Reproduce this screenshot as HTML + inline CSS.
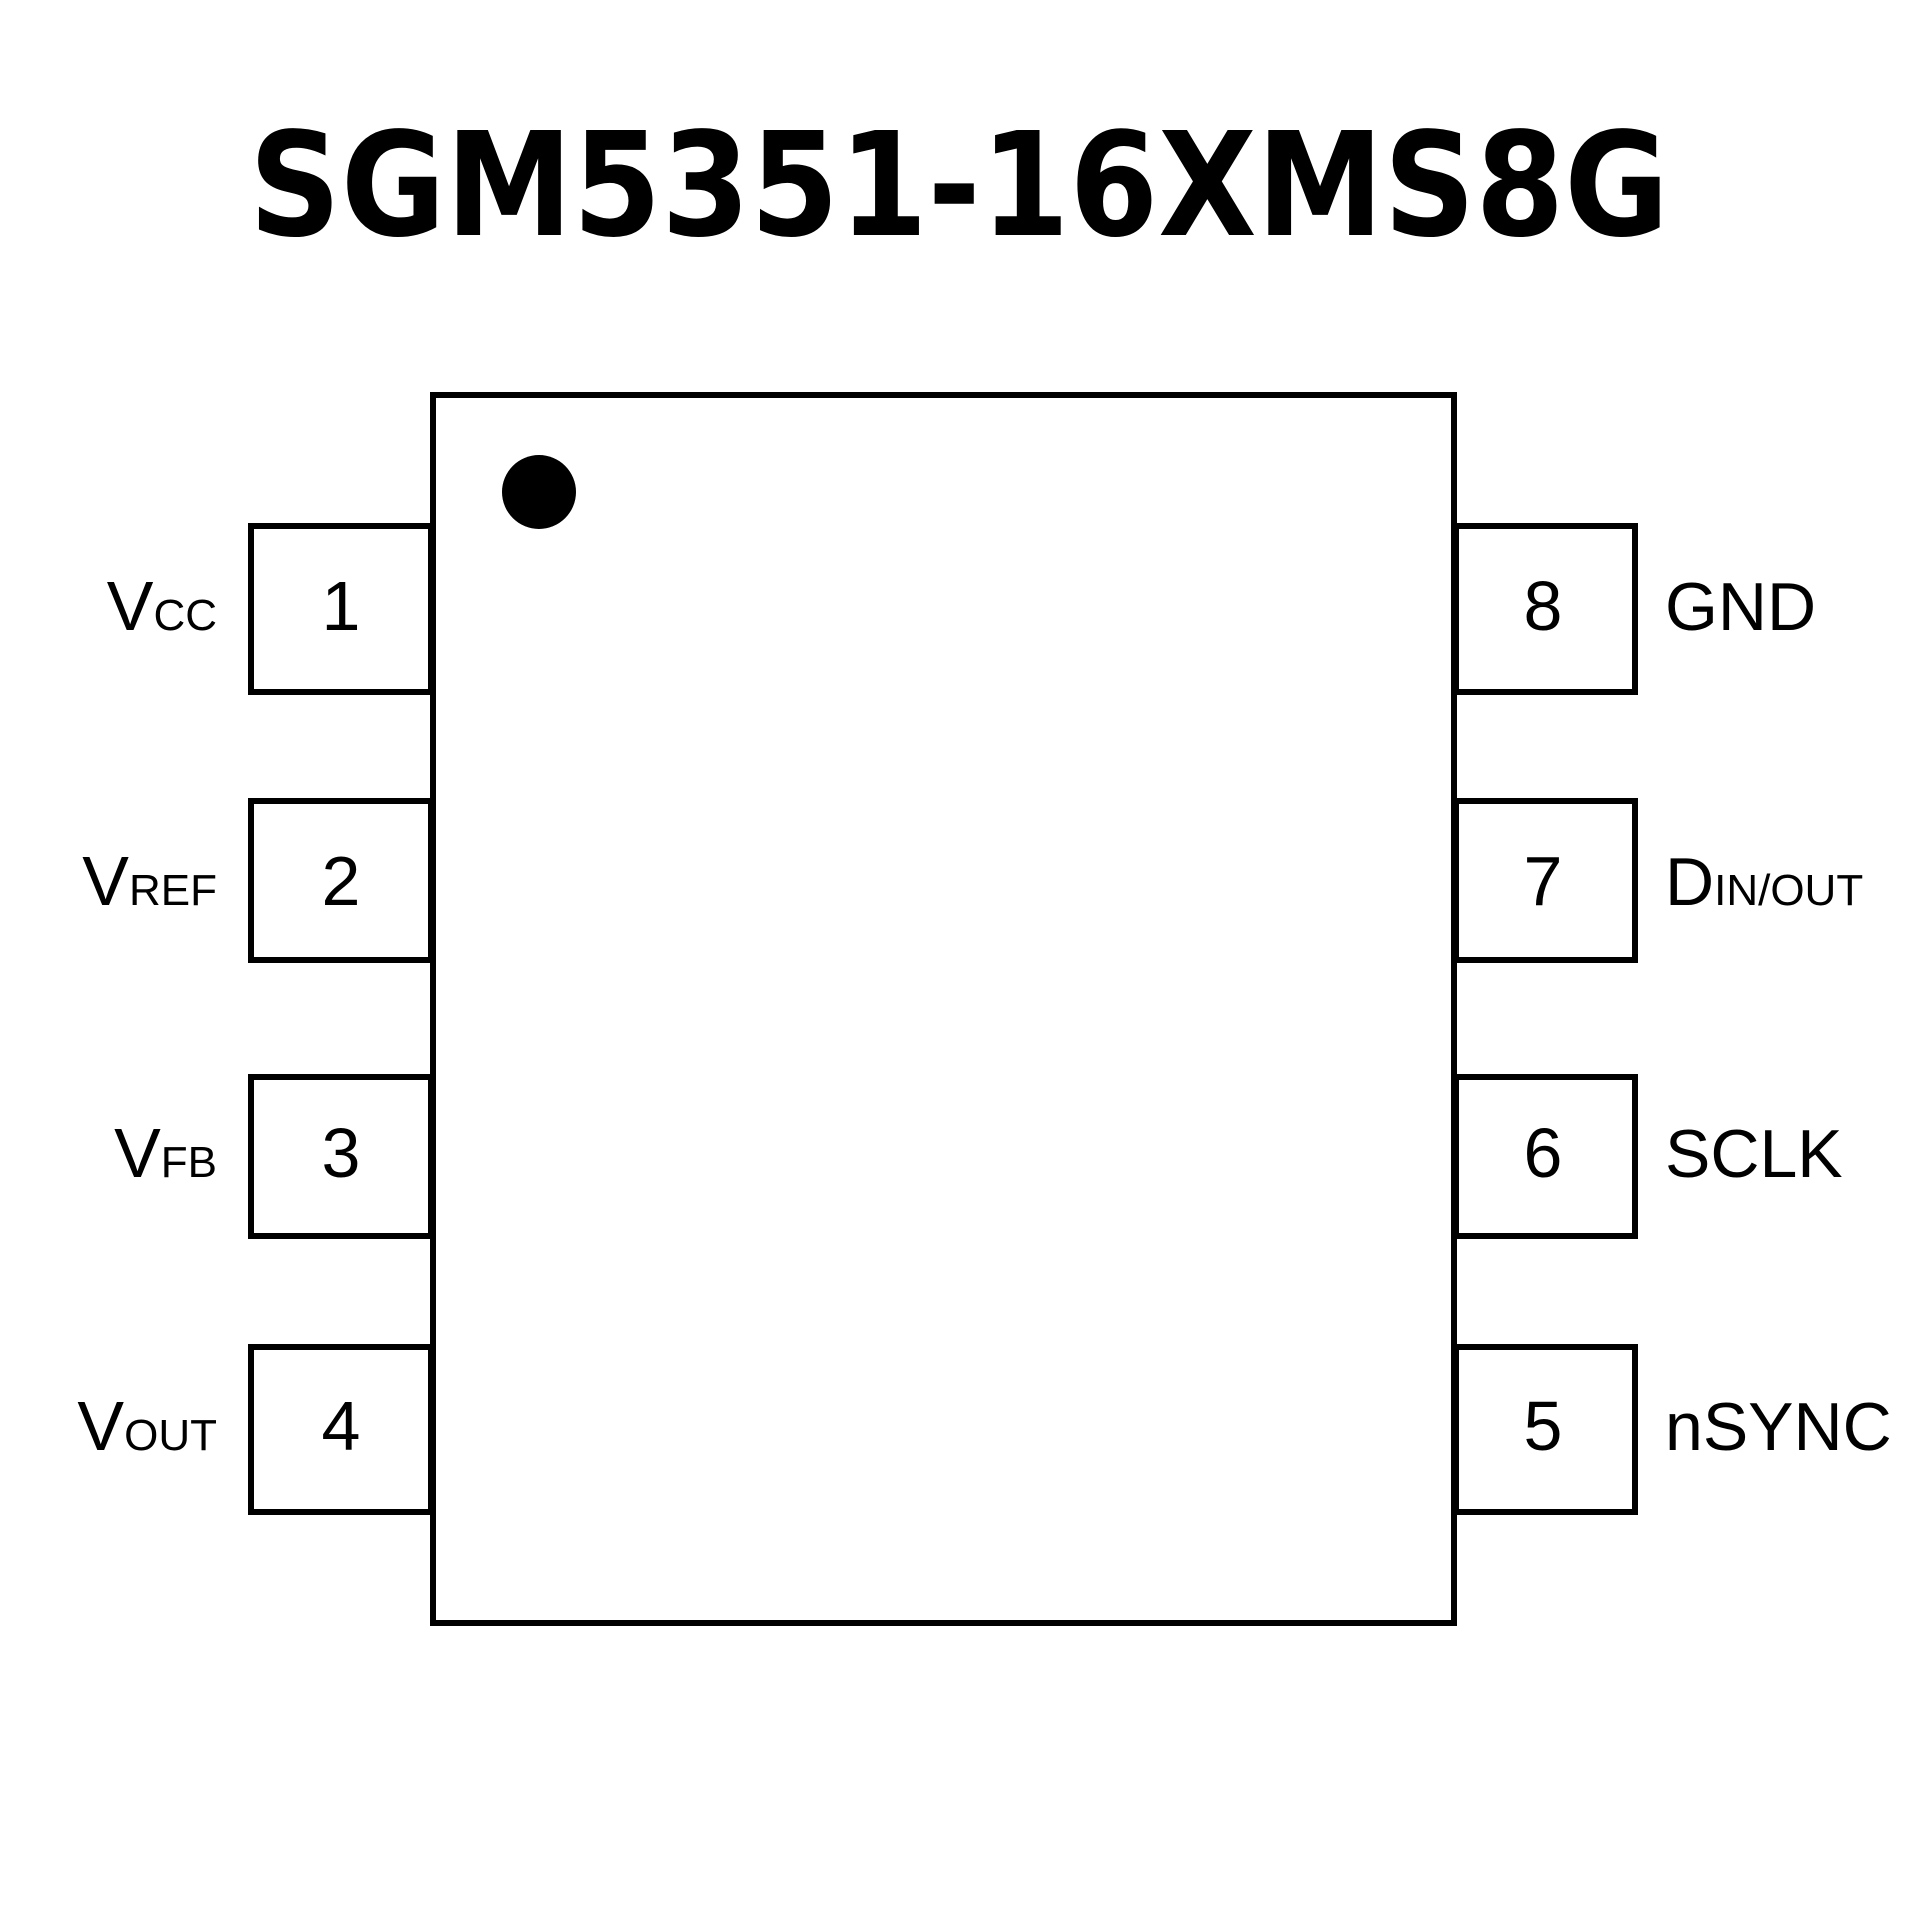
<!DOCTYPE html>
<html><head><meta charset="utf-8"><style>html,body{margin:0;padding:0;background:#fff}</style></head>
<body>
<svg width="1920" height="1920" viewBox="0 0 1920 1920" xmlns="http://www.w3.org/2000/svg">
<rect width="1920" height="1920" fill="#fff"/>
<text x="959" y="235" text-anchor="middle" font-family="'DejaVu Sans','Liberation Sans',sans-serif" font-weight="bold" font-size="144" textLength="1420" lengthAdjust="spacingAndGlyphs">SGM5351-16XMS8G</text>
<g fill="none" stroke="#000" stroke-width="6">
<rect x="433" y="395" width="1021" height="1228"/>
<rect x="251" y="526" width="180" height="166"/>
<rect x="251" y="801" width="180" height="159"/>
<rect x="251" y="1077" width="180" height="159"/>
<rect x="251" y="1347" width="180" height="165"/>
<rect x="1456" y="526" width="179" height="166"/>
<rect x="1456" y="801" width="179" height="159"/>
<rect x="1456" y="1077" width="179" height="159"/>
<rect x="1456" y="1347" width="179" height="165"/>
</g>
<circle cx="539" cy="492" r="37" fill="#000"/>
<g font-family="'Liberation Sans',sans-serif" font-size="70" text-anchor="middle">
<text x="341" y="630">1</text><text x="341" y="905">2</text><text x="341" y="1177">3</text><text x="341" y="1450">4</text>
<text x="1543" y="630">8</text><text x="1543" y="905">7</text><text x="1543" y="1177">6</text><text x="1543" y="1450">5</text>
</g>
<g font-family="'Liberation Sans',sans-serif" font-size="70" text-anchor="end">
<text x="217" y="630">V<tspan font-size="44">CC</tspan></text>
<text x="217" y="905">V<tspan font-size="44">REF</tspan></text>
<text x="217" y="1177">V<tspan font-size="44">FB</tspan></text>
<text x="217" y="1450">V<tspan font-size="44">OUT</tspan></text>
</g>
<g font-family="'Liberation Sans',sans-serif" font-size="68">
<text x="1665" y="630">GND</text>
<text x="1665" y="905">D<tspan font-size="44">IN/OUT</tspan></text>
<text x="1665" y="1177">SCLK</text>
<text x="1665" y="1450">nSYNC</text>
</g>
</svg>
</body></html>
